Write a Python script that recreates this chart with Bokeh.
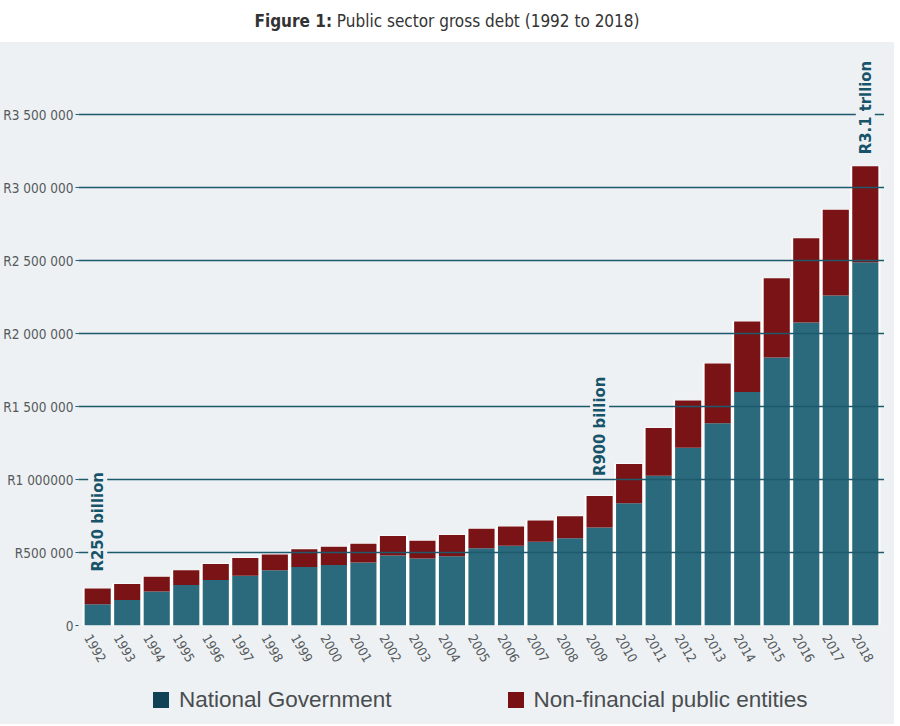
import math
from bokeh.plotting import figure
from bokeh.models import (ColumnDataSource, FixedTicker, LinearAxis, Div,
                          Range1d)
from bokeh.core.properties import value
from bokeh.layouts import column
from bokeh.embed import file_html
from bokeh.resources import INLINE

# ---- data (R million) ----
years = ["1992", "1993", "1994", "1995", "1996", "1997", "1998", "1999",
         "2000", "2001", "2002", "2003", "2004", "2005", "2006", "2007",
         "2008", "2009", "2010", "2011", "2012", "2013", "2014", "2015",
         "2016", "2017", "2018"]
national = [145000, 175000, 233000, 277000, 311000, 341000, 378000, 401000,
            415000, 431000, 479000, 459000, 475000, 530000, 546000, 574000,
            597000, 671000, 837000, 1026000, 1217000, 1385000, 1599000,
            1835000, 2076000, 2261000, 2488000]
nonfinancial = [109000, 109000, 101000, 101000, 111000, 122000, 108000,
                122000, 124000, 129000, 134000, 122000, 145000, 132000,
                132000, 145000, 152000, 216000, 270000, 327000, 325000,
                409000, 483000, 543000, 577000, 587000, 658000]
y_ticks = [0, 500000, 1000000, 1500000, 2000000, 2500000, 3000000, 3500000]
y_tick_labels = ["0", "R500 000", "R1 000000", "R1 500 000", "R2 000 000",
                 "R2 500 000", "R3 000 000", "R3 500 000"]
series_names = ["National Government", "Non-financial public entities"]
annotation_years = ["1992", "2009", "2018"]
annotation_texts = ["R250 billion", "R900 billion", "R3.1 trllion"]
title_bold = "Figure 1:"
title_rest = "Public sector gross debt (1992 to 2018)"

year_num = [int(y) for y in years]
total = [a + b for a, b in zip(national, nonfinancial)]

# ---- styles ----
BG = "#edf1f3"
TEAL = "#2a6a7c"
RED = "#7a1315"
GRID = "#1d5a6c"
ANN = "#17546a"
LBL = "#55595d"
COND = "DejaVu Sans Condensed"
PAD = 0.65          # half-bar padding at the x-range ends
LABEL_SHIFT = 0.34  # rotated year labels sit slightly left of bar centres

source = ColumnDataSource(dict(year=year_num, national=national,
                               nonfinancial=nonfinancial, total=total))

p = figure(x_range=Range1d(year_num[0] - PAD, year_num[-1] + PAD),
           y_range=Range1d(0, 3877000), x_axis_location=None,
           width=884, height=629, output_backend="svg",
           toolbar_location=None, min_border_top=12, min_border_left=70,
           min_border_right=0, min_border_bottom=51)
p.background_fill_color = BG
p.border_fill_color = BG
p.outline_line_color = None
p.xgrid.visible = False

# white backing for the bar gaps
p.vbar(x="year", top="total", width=0.985, source=source,
       fill_color="white", line_color="white", line_width=1)

rs = p.vbar_stack(["national", "nonfinancial"], x="year", width=0.885,
                  source=source, color=[TEAL, RED], line_color=None)

# y axis
p.yaxis.ticker = FixedTicker(ticks=y_ticks)
p.yaxis.major_label_overrides = {t: l for t, l in zip(y_ticks, y_tick_labels)}
p.yaxis.axis_line_color = None
p.yaxis.major_tick_line_color = GRID
p.yaxis.major_tick_in = 0
p.yaxis.major_tick_out = 3
p.yaxis.minor_tick_line_color = None
p.yaxis.major_label_standoff = 2
p.yaxis.major_label_text_font = COND
p.yaxis.major_label_text_font_size = "13.5px"
p.yaxis.major_label_text_color = LBL

p.ygrid.grid_line_color = GRID
p.ygrid.grid_line_width = 1.3
p.ygrid.level = "guide"

# x axis (years), on a slightly shifted range so rotated labels centre
p.extra_x_ranges = {"lab": Range1d(year_num[0] - PAD + LABEL_SHIFT,
                                   year_num[-1] + PAD + LABEL_SHIFT)}
xaxis = LinearAxis(x_range_name="lab", ticker=FixedTicker(ticks=year_num),
                   major_label_overrides={n: s for n, s in zip(year_num, years)},
                   axis_line_color=None, major_tick_line_color=None,
                   minor_tick_line_color=None,
                   major_label_orientation=-math.pi / 3,
                   major_label_standoff=4, major_label_text_font=COND,
                   major_label_text_font_size="13px",
                   major_label_text_color=LBL)
p.add_layout(xaxis, "below")

# annotations (rotated text above selected bars)
ann_src = ColumnDataSource(dict(
    x=[int(yr) for yr in annotation_years],
    y=[total[years.index(yr)] for yr in annotation_years],
    text=annotation_texts,
    off=[-17, -20, -12]))
p.text(x="x", y="y", text="text", source=ann_src, y_offset="off",
       angle=math.pi / 2, text_align="left", text_baseline="middle",
       text_font=value(COND), text_font_style="bold",
       text_font_size="16.5px", text_color=ANN,
       background_fill_color=BG, level="annotation")

# ---- legend strip (HTML) ----
sw = "display:inline-block;width:16px;height:16px;margin-right:10px;"
legend_html = (
    f"<div style=\"display:flex;align-items:center;width:884px;height:38px;"
    f"padding-left:148px;box-sizing:border-box;background:{BG};"
    f"font-family:'Liberation Sans';font-size:22.5px;color:#4a4d50;\">"
    f"<span style=\"{sw}background:#0e4254;\"></span>"
    f"<span>{series_names[0]}</span>"
    f"<span style=\"{sw}margin-left:116px;background:#780f12;\"></span>"
    f"<span>{series_names[1]}</span></div>")
legend_div = Div(text=legend_html, width=884, height=38,
                 styles={"background": BG})

title = Div(text=(f"<div style=\"width:884px;height:37px;"
                  f"text-align:center;"
                  f"font-family:'{COND}';font-size:17px;color:#333;"
                  f"line-height:33px;\"><b>{title_bold}</b> {title_rest}</div>"),
            width=884, height=37,
            styles={"background": "white",
                    "box-shadow": "0 -8px 0 8px white"})

layout = column(title, p, legend_div, spacing=0, styles={"background": BG})

open("out.html", "w").write(file_html(layout, INLINE))
